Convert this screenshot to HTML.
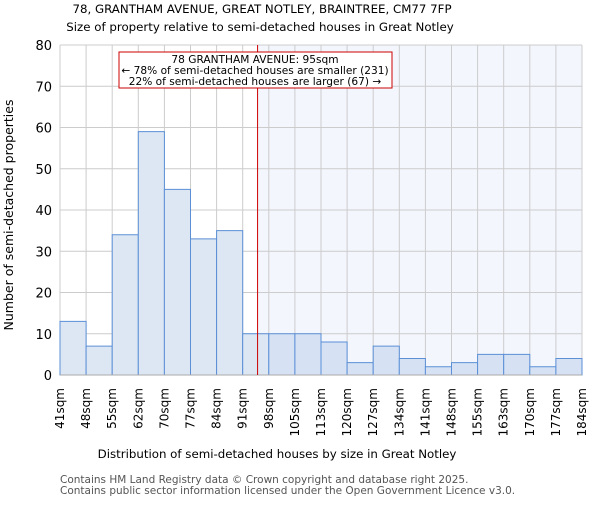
<!DOCTYPE html>
<html><head><meta charset="utf-8"><style>body{margin:0;background:#fff}svg{font-family:"DejaVu Sans","Liberation Sans",sans-serif}</style></head>
<body>
<svg id="c" width="600" height="500">
<text x="262" y="13" text-anchor="middle" font-size="11.8">78, GRANTHAM AVENUE, GREAT NOTLEY, BRAINTREE, CM77 7FP</text>
<text x="260" y="31" text-anchor="middle" font-size="11.8">Size of property relative to semi-detached houses in Great Notley</text>
<text x="13" y="215" text-anchor="middle" font-size="12.5" transform="rotate(-90 13 215)">Number of semi-detached properties</text>
<text x="277" y="458" text-anchor="middle" font-size="11.8">Distribution of semi-detached houses by size in Great Notley</text>
<text x="60" y="483" font-size="10.5" fill="#555">Contains HM Land Registry data © Crown copyright and database right 2025.</text>
<text x="60" y="494" font-size="10.5" fill="#555">Contains public sector information licensed under the Open Government Licence v3.0.</text>
<g id="plot"></g>
</svg>
<script>
const categories=["41sqm","48sqm","55sqm","62sqm","70sqm","77sqm","84sqm","91sqm","98sqm","105sqm","113sqm","120sqm","127sqm","134sqm","141sqm","148sqm","155sqm","163sqm","170sqm","177sqm","184sqm"];
const counts=[13,7,34,59,45,33,35,10,10,10,8,3,7,4,2,3,5,5,2,4];
const yTicks=[0,10,20,30,40,50,60,70,80];
const propertyBinPos=7.57;
const L=60,R=582,T=45,B=375,yMax=80;
const bw=(R-L)/counts.length;
const x=i=>L+i*bw;
const y=v=>B-(v/yMax)*(B-T);
const NS="http://www.w3.org/2000/svg";
const g=document.getElementById('plot');
function mk(t,a,p){const e=document.createElementNS(NS,t);for(const k in a)e.setAttribute(k,a[k]);(p||g).appendChild(e);return e;}
const px=x(propertyBinPos);
let hl=mk('rect',{x:px,y:T,width:R-px,height:B-T,fill:'#f3f6fd'});


yTicks.forEach(v=>{
 let l=mk('line',{x1:L,x2:R,y1:y(v),y2:y(v),stroke:'#cccccc'});
 
 
 let t=mk('text',{x:L-8,y:y(v)+5,'text-anchor':'end','font-size':13});
 t.textContent=v;
 
 
});
categories.forEach((c,i)=>{
 let l=mk('line',{x1:x(i),x2:x(i),y1:T,y2:B,stroke:'#cccccc'});
 
 
 const tx=x(i)+4;
 let t=mk('text',{x:tx,y:388,'text-anchor':'end','font-size':12,transform:`rotate(-90 ${tx} 388)`});
 t.textContent=c;
 
 
});
counts.forEach((v,i)=>{
 let r=mk('rect',{x:x(i),y:y(v),width:bw,height:B-y(v),fill:i>=8?'#d6e2f4':'#dde7f4',stroke:'#5b8fd6','stroke-width':1});
 
 
});
let ax=mk('line',{x1:L,x2:R,y1:B,y2:B,stroke:'#aaa'});


let ml=mk('line',{x1:px,x2:px,y1:T,y2:B,stroke:'#cc0000','stroke-width':1});


let bx=mk('rect',{x:119,y:52,width:273,height:36,fill:'#fff',stroke:'#cc0000'});


["78 GRANTHAM AVENUE: 95sqm","← 78% of semi-detached houses are smaller (231)","22% of semi-detached houses are larger (67) →"].forEach((s,i)=>{
 let t=mk('text',{x:255,y:63+i*11,'text-anchor':'middle','font-size':10.6});
 t.textContent=s;
 
 
});
</script>
</body></html>
